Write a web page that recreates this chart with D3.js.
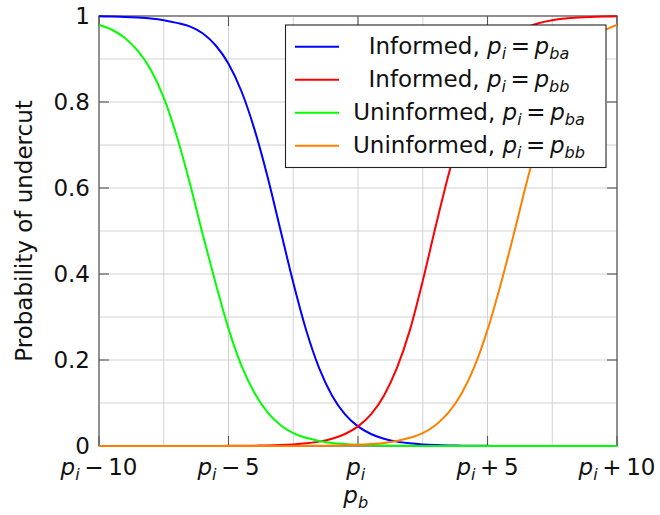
<!DOCTYPE html>
<html>
<head>
<meta charset="utf-8">
<script src="https://cdn.jsdelivr.net/npm/d3@7"></script>
<style>
  html, body { margin: 0; padding: 0; background: #fff; }
  svg { display: block; }
</style>
</head>
<body>
<svg id="chart" width="660" height="515"></svg>
<script>
// Sample positions of p_b relative to p_i
const pb = [-10, -9.5, -9, -8.5, -8, -7.5, -7, -6.5, -6, -5.5, -5, -4.5, -4, -3.5, -3, -2.5, -2, -1.5, -1, -0.5,
            0, 0.5, 1, 1.5, 2, 2.5, 3, 3.5, 4, 4.5, 5, 5.5, 6, 6.5, 7, 7.5, 8, 8.5, 9, 9.5, 10];

// Probability of undercut for each trader type
const informedBa = [0.9992, 0.9987, 0.9979, 0.9964, 0.9941, 0.9902, 0.9840, 0.9760, 0.9600, 0.9320, 0.8890, 0.8250, 0.7370, 0.6280, 0.5040, 0.3800, 0.2690, 0.1810, 0.1171, 0.0737,
                    0.0456, 0.0279, 0.0169, 0.0102, 0.0062, 0.0037, 0.0022, 0.0013, 0.0008, 0.0005, 0.0003, 0.0002, 0.0001, 0, 0, 0, 0, 0, 0, 0, 0];
const informedBb = [0, 0, 0, 0, 0, 0, 0, 0, 0.0001, 0.0002, 0.0003, 0.0005, 0.0008, 0.0013, 0.0022, 0.0037, 0.0062, 0.0102, 0.0169, 0.0279,
                    0.0456, 0.0737, 0.1171, 0.1809, 0.2689, 0.3840, 0.5110, 0.6320, 0.7391, 0.8251, 0.8871, 0.9289, 0.9561, 0.9732, 0.9837, 0.9902, 0.9941, 0.9964, 0.9979, 0.9987, 0.9992];
const uninformedBa = [0.980, 0.968, 0.949, 0.919, 0.875, 0.810, 0.721, 0.613, 0.493, 0.379, 0.273, 0.187, 0.124, 0.079, 0.049, 0.030, 0.019, 0.0118, 0.0072, 0.0045,
                      0.0027, 0.0017, 0.0010, 0.0006, 0.0004, 0.0002, 0.0001, 0, 0, 0, 0, 0, 0, 0, 0, 0, 0, 0, 0, 0, 0];
const uninformedBb = [0, 0, 0, 0, 0, 0, 0, 0, 0, 0, 0, 0, 0, 0, 0.0001, 0.0002, 0.0004, 0.0006, 0.0010, 0.0017,
                      0.0027, 0.0045, 0.0070, 0.0117, 0.019, 0.030, 0.049, 0.078, 0.122, 0.185, 0.270, 0.374, 0.489, 0.610, 0.719, 0.806, 0.872, 0.917, 0.947, 0.966, 0.979];

const seriesNames = ["Informed", "Informed", "Uninformed", "Uninformed"];
const seriesSub = ["ba", "bb", "ba", "bb"];
const seriesColors = ["#0000ff", "#ff0000", "#00ff00", "#ff8000"];
const seriesValues = [informedBa, informedBb, uninformedBa, uninformedBb];

// Axis ticks
const xTickValues = [-10, -5, 0, 5, 10];
const xTickSuffix = ["\u2212\u200910", "\u2212\u20095", "", "+\u20095", "+\u200910"];
const yTickValues = [0, 0.2, 0.4, 0.6, 0.8, 1];
const yTickLabels = ["0", "0.2", "0.4", "0.6", "0.8", "1"];
const xGridValues = [-10, -7.5, -5, -2.5, 0, 2.5, 5, 7.5, 10];
const yGridValues = [0, 0.1, 0.2, 0.3, 0.4, 0.5, 0.6, 0.7, 0.8, 0.9, 1];

const fontStack = "'DejaVu Sans', sans-serif";
const svg = d3.select("#chart").attr("font-family", fontStack);
const plot = { left: 99, right: 617, top: 16, bottom: 446 };
const fs = 23;

const x = d3.scaleLinear().domain([-10, 10]).range([plot.left, plot.right]);
const y = d3.scaleLinear().domain([0, 1]).range([plot.bottom, plot.top]);

function label(parent) {
  return parent.append("text").style("font-family", fontStack).attr("fill", "#111").attr("font-size", fs);
}

// grid
const grid = svg.append("g").attr("stroke", "#d2d2d2").attr("stroke-width", 1);
grid.selectAll("line.gx").data(xGridValues).join("line")
  .attr("x1", d => x(d)).attr("x2", d => x(d))
  .attr("y1", plot.top).attr("y2", plot.bottom);
grid.selectAll("line.gy").data(yGridValues).join("line")
  .attr("y1", d => y(d)).attr("y2", d => y(d))
  .attr("x1", plot.left).attr("x2", plot.right);

// ticks on all four sides, pointing inward
const tickLen = 10;
const ticks = svg.append("g").attr("stroke", "#555").attr("stroke-width", 1.1);
xTickValues.forEach(v => {
  ticks.append("line").attr("x1", x(v)).attr("x2", x(v)).attr("y1", plot.bottom).attr("y2", plot.bottom - tickLen);
  ticks.append("line").attr("x1", x(v)).attr("x2", x(v)).attr("y1", plot.top).attr("y2", plot.top + tickLen);
});
yTickValues.forEach(v => {
  ticks.append("line").attr("y1", y(v)).attr("y2", y(v)).attr("x1", plot.left).attr("x2", plot.left + tickLen);
  ticks.append("line").attr("y1", y(v)).attr("y2", y(v)).attr("x1", plot.right).attr("x2", plot.right - tickLen);
});

// frame
svg.append("rect")
  .attr("x", plot.left).attr("y", plot.top)
  .attr("width", plot.right - plot.left).attr("height", plot.bottom - plot.top)
  .attr("fill", "none").attr("stroke", "#555").attr("stroke-width", 1.2);

// curves
svg.append("clipPath").attr("id", "plotClip").append("rect")
  .attr("x", plot.left).attr("y", plot.top - 1)
  .attr("width", plot.right - plot.left).attr("height", plot.bottom - plot.top + 2);

const line = d3.line().x((d, i) => x(pb[i])).y(d => y(d)).curve(d3.curveMonotoneX);
const curves = svg.append("g").attr("clip-path", "url(#plotClip)");
seriesValues.forEach((vals, k) => {
  curves.append("path").datum(vals)
    .attr("d", line)
    .attr("fill", "none")
    .attr("stroke", seriesColors[k])
    .attr("stroke-width", 2);
});

// math helper: italic symbol with italic subscript
function mathP(sel, sub) {
  sel.append("tspan").attr("font-style", "italic").text("p");
  sel.append("tspan").attr("font-style", "italic").attr("font-size", fs * 0.7).attr("dy", fs * 0.22).text(sub);
  sel.append("tspan").attr("dy", -fs * 0.22).text("\u2009");
}

// x tick labels
xTickValues.forEach((v, i) => {
  const t = label(svg).attr("x", x(v)).attr("y", 475).attr("text-anchor", "middle");
  mathP(t, "i");
  if (xTickSuffix[i]) t.append("tspan").text(xTickSuffix[i]);
});

// y tick labels
yTickValues.forEach((v, i) => {
  label(svg).attr("x", 90).attr("y", y(v)).attr("dy", "0.36em")
    .attr("text-anchor", "end").text(yTickLabels[i]);
});

// axis titles
const xt = label(svg).attr("x", x(0)).attr("y", 503).attr("text-anchor", "middle");
mathP(xt, "b");

label(svg)
  .attr("transform", `translate(32,${(plot.top + plot.bottom) / 2}) rotate(-90)`)
  .attr("text-anchor", "middle")
  .text("Probability of undercut");

// legend
const lg = svg.append("g");
lg.append("rect").attr("x", 285.5).attr("y", 25).attr("width", 320.5).attr("height", 142.5)
  .attr("fill", "#fff").attr("stroke", "#222").attr("stroke-width", 1.1);
const rowY = [46.7, 79.7, 112.7, 145.7];
seriesNames.forEach((name, k) => {
  lg.append("line").attr("x1", 295).attr("x2", 339).attr("y1", rowY[k]).attr("y2", rowY[k])
    .attr("stroke", seriesColors[k]).attr("stroke-width", 2);
  const t = label(lg).attr("x", 469).attr("y", rowY[k] + 7.5).attr("text-anchor", "middle");
  t.append("tspan").text(name + ", ");
  mathP(t, "i");
  t.append("tspan").text("=\u2009");
  t.append("tspan").attr("font-style", "italic").text("p");
  t.append("tspan").attr("font-style", "italic").attr("font-size", fs * 0.7).attr("dy", fs * 0.22).text(seriesSub[k]);
});
</script>
</body>
</html>
